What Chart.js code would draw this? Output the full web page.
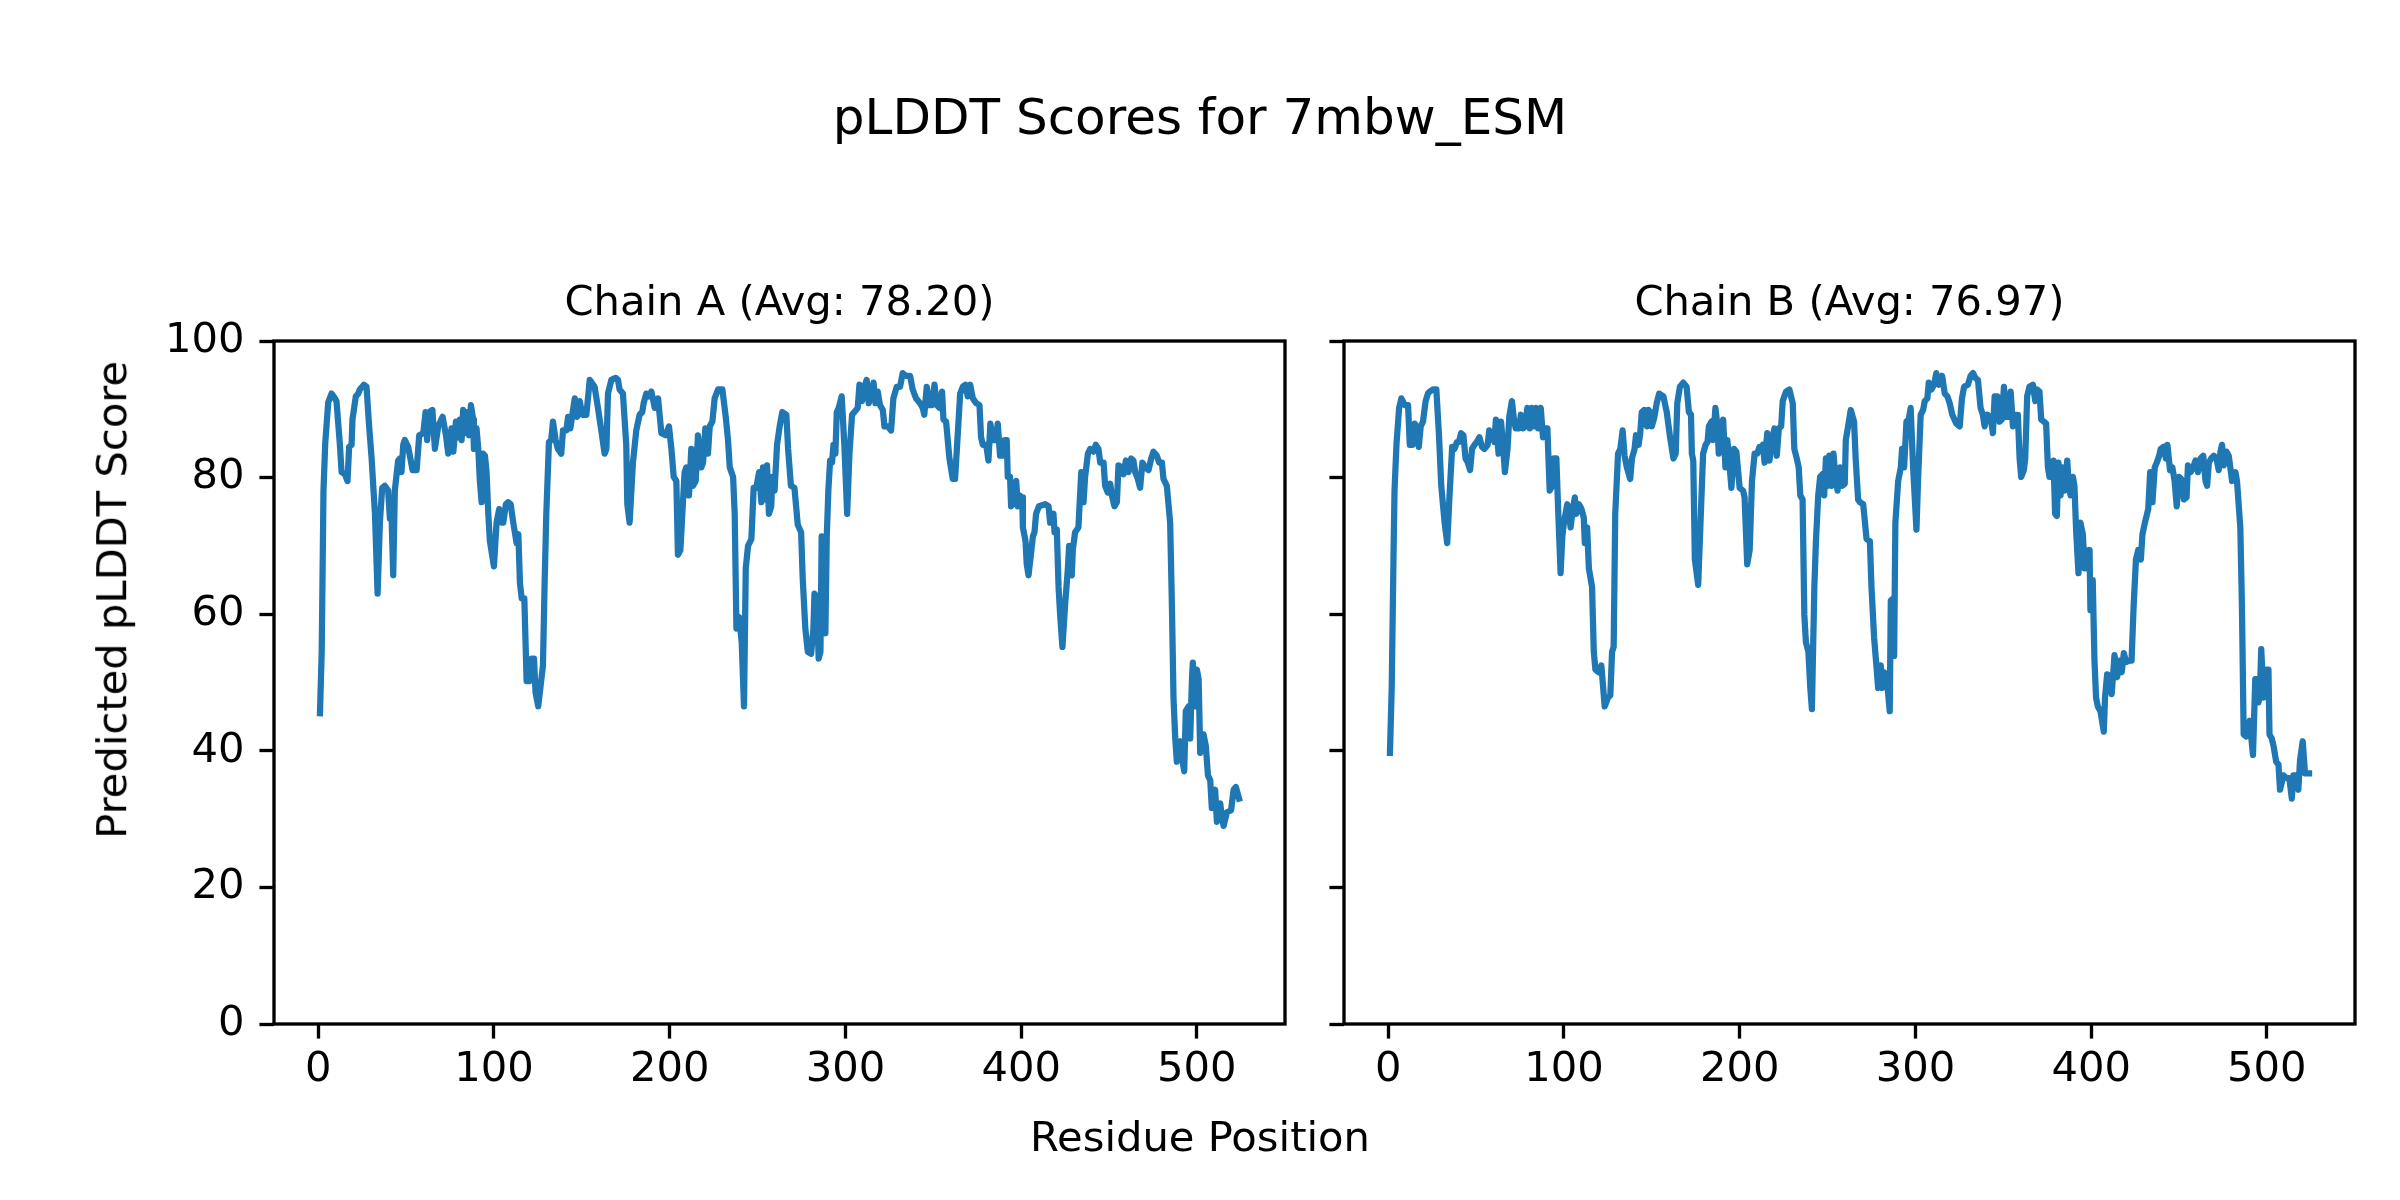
<!DOCTYPE html>
<html>
<head>
<meta charset="utf-8">
<title>pLDDT Scores for 7mbw_ESM</title>
<script src="https://cdn.jsdelivr.net/npm/chart.js@4.4.0/dist/chart.umd.min.js"></script>
<style>
    body { margin: 0; background: #fff; }
    #page { position: relative; width: 2400px; height: 1200px; overflow: hidden; font-family: 'DejaVu Sans', sans-serif; color: #000; }
    canvas { position: absolute; top: 0; }
    .label { position: absolute; white-space: nowrap; text-align: center; line-height: 1; }
</style>
</head>
<body>
<div id="page">
    <canvas id="chainA" width="1310" height="1200" style="left: 0px"></canvas>
    <canvas id="chainB" width="1090" height="1200" style="left: 1310px"></canvas>
    <div id="suptitle" class="label"></div>
    <div id="xlabel" class="label"></div>
    <div id="ylabel" class="label"></div>
</div>
<script>
const figureTitle = 'pLDDT Scores for 7mbw_ESM'
const xTitle = 'Residue Position'
const yTitle = 'Predicted pLDDT Score'
const chainTitles = ['Chain A (Avg: 78.20)', 'Chain B (Avg: 76.97)']
const xTicks = [0, 100, 200, 300, 400, 500]
const yTicks = [0, 20, 40, 60, 80, 100]

const residuesA = [
    1, 2, 3, 4, 5.7, 7.6, 9.5, 10.4, 12.3, 13.3,
    15.2, 16.7, 17.6, 19, 19.5, 21.4, 22.8, 23.7, 26, 27.5,
    28.8, 30.4, 32.3, 33.8, 35.1, 36.4, 37.9, 39.8, 40.8, 41.7,
    42.7, 43.6, 45.5, 46.5, 47.4, 48.4, 49.3, 51.2, 53.7, 56,
    57.5, 59.8, 61.1, 62, 63.2, 65, 66.4, 68.3, 70.8, 72.7,
    74, 75.9, 76.9, 78.4, 79.7, 80.6, 81.6, 82.5, 84, 84.8,
    85.9, 86.9, 88.2, 88.6, 90.1, 91.1, 92, 93, 93.9, 94.9,
    95.8, 96.8, 97.7, 100, 101.5, 103, 104.4, 105.3, 106.8, 108.1,
    109.5, 111, 112.9, 113.9, 114.8, 115.8, 117.3, 118.6, 120.1, 121.4,
    122.8, 123.7, 125.2, 127.9, 128.8, 129.8, 131.3, 132.6, 133.6, 135.1,
    136.4, 138.3, 139.3, 141.2, 142.2, 143.5, 144.6, 146, 147.3, 148.8,
    150.3, 152.6, 154.5, 157.3, 159.2, 161.1, 163, 164, 164.9, 166.8,
    169.3, 170.6, 171.5, 173.4, 175.3, 175.9, 177.2, 179.1, 181, 182.9,
    184.4, 185.2, 186.7, 188.2, 189.6, 191.5, 193.4, 195.3, 197.7, 199.6,
    201, 202.3, 203.8, 204.7, 206.1, 207.2, 208.5, 209.5, 211, 212.3,
    213.3, 214.8, 216.1, 218, 219, 220.3, 221.8, 222.8, 224.3, 225.6,
    227.5, 230, 231.9, 233.2, 234.2, 236.1, 237, 238, 239.5, 241,
    242.3, 243.3, 244.6, 246.5, 247.8, 249.3, 250.9, 252.2, 253.1, 254,
    255.4, 256.5, 257.8, 258.4, 259.7, 261.1, 262.6, 264.1, 266.4, 267.4,
    269, 271, 272.9, 274.8, 275.7, 277.2, 278.6, 280.5, 281.8, 282.4,
    283.7, 284.8, 285.8, 286.5, 287.5, 288.6, 289.4, 290.3, 291.3, 292.4,
    293.2, 294.3, 295.1, 296.2, 297.9, 299.4, 301, 302.3, 303.8, 305.1,
    307, 308, 309.5, 310.8, 312.1, 313.3, 314.6, 316, 317.1, 318.4,
    319.7, 321.3, 322.2, 324.1, 326, 327.3, 329.2, 331.1, 332.6, 334.5,
    336.8, 338.3, 340.2, 342.5, 344, 344.9, 346.3, 347.8, 349.3, 350.7,
    352, 353.5, 355, 355.8, 357.3, 359.2, 361.1, 362.4, 363.9, 365.3,
    366.8, 368.3, 369.6, 371, 372.5, 374.4, 376.3, 377.2, 378.2, 380.1,
    381.4, 382.5, 383.9, 385.4, 386.7, 388, 389.2, 390.5, 391.8, 392.4,
    393.7, 394.3, 395.3, 396.2, 397.2, 398.1, 399.1, 400.6, 401, 402.5,
    403.2, 404.2, 405.1, 406.7, 407.6, 408.5, 410.1, 413.7, 415.6, 416.5,
    418.4, 419, 420.3, 421.3, 422.2, 423.5, 425, 426.6, 427.3, 428.8,
    429.4, 430.7, 432.6, 434.2, 435.5, 436.4, 438, 439.3, 441.2, 442.5,
    444, 445, 446.9, 447.8, 449.3, 450.7, 451.6, 453.1, 454.5, 455.4,
    457, 458.3, 459.6, 461.1, 462.6, 463.9, 464.9, 466.4, 467.7, 469,
    470.6, 472.5, 474, 475.3, 477.2, 478.6, 480.1, 481, 482.9, 484.8,
    485.8, 486.7, 487.7, 488.6, 490.5, 491.5, 492.8, 493.7, 495.3, 496.2,
    497.2, 497.7, 499.1, 500, 501, 501.9, 503.8, 505.1, 506.3, 507.6,
    508.5, 510.4, 511.4, 513.3, 514.2, 515.2, 517.1, 519.5, 520.9, 522.2,
    524
]
const scoresA = [
    45.5, 54.5, 78, 85, 91, 92.3, 91.6, 91.2, 85, 80.8,
    80.5, 79.5, 84.5, 84.8, 88.5, 91.9, 92.3, 92.9, 93.6, 93.3,
    88.2, 82.8, 74.7, 63, 73.4, 78.5, 78.8, 78.1, 74, 74.7,
    65.7, 78.1, 82.5, 82.8, 80.8, 84.8, 85.5, 84.5, 81.1, 81.1,
    86.2, 86.5, 89.6, 85.5, 89.6, 89.9, 84.2, 87.5, 88.9, 86.2,
    83.5, 87.2, 83.8, 88.2, 85.9, 88.5, 85.5, 89.9, 86.5, 89.6,
    86.2, 90.6, 88.5, 84.2, 87.2, 84.2, 79.5, 76.4, 83.5, 83.2,
    80.8, 74.7, 70.7, 67, 73.4, 75.4, 73.4, 73.4, 76.1, 76.4,
    76.1, 73.4, 70.4, 71.7, 64.6, 62.3, 62.3, 50.2, 50.2, 53.5,
    53.5, 48.5, 46.5, 52.5, 64, 74.7, 85.2, 85.5, 88.2, 85.5,
    84.2, 83.5, 86.9, 86.9, 88.9, 87.2, 89.2, 91.6, 88.9, 91.2,
    89.2, 89.2, 94.3, 93.3, 90.2, 86.9, 83.5, 84.2, 92.3, 94.3,
    94.6, 94.3, 92.9, 92.3, 84.8, 76.1, 73.4, 82.2, 86.9, 89.2,
    89.6, 90.9, 92.3, 91.9, 92.6, 90.2, 91.6, 86.5, 86.2, 87.5,
    84.2, 80.1, 79.5, 68.7, 69.4, 74.7, 80.8, 81.5, 77.4, 84.2,
    78.8, 79.5, 86.2, 81.5, 82.2, 87.2, 83.5, 87.5, 88.2, 91.6,
    92.9, 92.9, 88.9, 85.5, 81.5, 80.1, 74.7, 57.9, 59.6, 55.9,
    46.5, 66.7, 70, 71, 78.5, 78.5, 80.8, 76.4, 81.5, 76.8,
    81.8, 74.7, 75.8, 80.1, 78.1, 84.8, 87.5, 89.6, 89.2, 84.2,
    78.8, 78.5, 73.1, 72, 65.3, 57.9, 54.5, 54.2, 57.9, 63,
    62.6, 53.5, 54.5, 71.4, 71, 57.2, 71.4, 78.1, 82.5, 82.2,
    84.8, 83.5, 89.6, 90.2, 91.9, 84.8, 74.7, 83.5, 89.2, 89.6,
    90.2, 93.6, 91.2, 93.3, 94.3, 90.9, 92.3, 93.9, 90.9, 92.6,
    90.6, 89.9, 87.5, 87.5, 86.9, 91.6, 93.3, 93.3, 95.3, 94.9,
    94.9, 92.9, 91.6, 90.9, 90.2, 89.2, 93.3, 90.6, 90.6, 93.6,
    90.6, 90.2, 92.6, 88.5, 88.2, 82.8, 79.8, 79.8, 86.2, 92.3,
    93.3, 93.6, 91.9, 93.6, 91.6, 90.9, 90.6, 85.9, 84.8, 84.8,
    82.5, 87.9, 85.5, 85.5, 87.9, 83.2, 83.2, 85.5, 85.5, 80.1,
    80.1, 75.8, 76.1, 78.8, 79.5, 75.8, 77.4, 77.1, 72.7, 70.7,
    67.3, 65.7, 67.7, 71.4, 72, 74.7, 75.8, 76.1, 75.8, 73.4,
    74.7, 72, 72.4, 64, 59.9, 55.2, 61.3, 66.7, 70, 65.7,
    69.4, 72, 72.7, 80.8, 76.4, 80.1, 83.5, 84.2, 83.8, 84.8,
    84.2, 82.2, 82.2, 78.8, 77.8, 79.1, 77.4, 75.8, 76.4, 81.8,
    81.5, 80.5, 82.5, 80.8, 82.8, 82.5, 80.8, 79.8, 78.5, 82.2,
    81.5, 81.1, 82.8, 83.8, 83.2, 82.2, 82.2, 79.8, 78.8, 73.4,
    61.3, 47.8, 41.8, 38.4, 41.4, 39.1, 37, 45.8, 46.5, 41.8,
    50.5, 52.9, 46.5, 51.9, 50.5, 39.7, 42.4, 40.7, 36.4, 35.7,
    31.6, 34.3, 29.6, 32.3, 30.3, 29, 31, 31.3, 34.3, 34.7,
    33
]

const residuesB = [
    1, 2, 3, 3.6, 4.7, 6.2, 7.5, 9.4, 11.3, 12.3,
    13.8, 15.1, 16, 17.4, 18.5, 19.8, 21.3, 22.6, 23.6, 25.5,
    27.4, 28.9, 30.2, 32.1, 33.6, 34.9, 36.4, 37.7, 39.1, 40.2,
    41.5, 42.8, 44, 45.3, 46.6, 47.7, 49.1, 50.4, 51.9, 53.4,
    54.7, 56.6, 57.5, 59.1, 60.4, 61.3, 62.8, 64.2, 65.5, 66.4,
    67.9, 68.9, 70.4, 71.7, 72.6, 74.5, 75.5, 76.8, 77.9, 79.2,
    80.6, 81.7, 83, 84, 85.3, 86.8, 88.1, 89.2, 90.6, 91.1,
    91.9, 93.4, 94.3, 95.7, 96.8, 98.1, 99.1, 100, 101.9, 102.8,
    103.8, 104.7, 106.2, 107, 108.5, 110, 111.3, 111.9, 113.2, 114.2,
    116, 117, 117.9, 119.8, 121.3, 123.2, 125.1, 126.4, 127.4, 128.3,
    129.2, 130.8, 132.1, 133.4, 134.5, 135.8, 137.7, 138.7, 140.2, 141,
    142.5, 143.4, 144.3, 145.7, 147.2, 148.1, 149.1, 150, 151.5, 152.8,
    154.2, 156.6, 158.5, 160.4, 162.3, 163.6, 164.5, 166, 167.9, 169.8,
    171.1, 172.3, 172.8, 173.6, 174.5, 176.4, 177.9, 179.2, 180.6, 181.7,
    182.5, 184, 184.9, 186.2, 187.4, 188.1, 189.2, 190.6, 191.9, 193,
    194, 195.3, 196.8, 198.1, 200, 201.9, 202.8, 204.3, 205.7, 207,
    208.5, 210, 211.3, 212.3, 213.2, 214.2, 215.7, 217, 218.3, 219.8,
    221.1, 222.3, 223.6, 224.5, 226.4, 228.3, 230.2, 231.1, 232.5, 233.6,
    234.5, 235.8, 236.8, 237.7, 239.1, 240.2, 241.1, 242.5, 243.4, 244.7,
    245.8, 247.2, 248.1, 249.1, 250, 251, 252.3, 253.4, 254.2, 255.7,
    257.2, 258.5, 259.8, 260.4, 261.7, 263.2, 265.1, 266, 267.4, 268.4,
    270.3, 272.2, 274.1, 275, 276.5, 277.8, 278.8, 280.3, 281.1, 282.2,
    283.5, 285.4, 286, 287.3, 287.9, 288.6, 290.2, 291.7, 292.4, 293.6,
    294.9, 296.2, 297.3, 298.7, 300.6, 301.5, 303, 304.4, 305.3, 306.8,
    307.6, 309.1, 310.6, 311.9, 313.3, 315.2, 316.7, 318.2, 319.5, 321,
    323.3, 325.2, 326.5, 327.7, 329.9, 331.4, 332.8, 334.1, 335.6, 337.1,
    338.4, 339.4, 340.9, 342.8, 344.1, 345.1, 346.6, 347.9, 349.2, 350.4,
    351.3, 352.7, 354.2, 355.5, 356.8, 358.3, 359.3, 360.2, 361.7, 362.5,
    363.6, 364.9, 366.9, 368.2, 369.3, 370.6, 371.6, 373.1, 374.4, 375.4,
    376.3, 377.7, 378.6, 379.5, 380.5, 381.4, 382.6, 383.7, 384.8, 386.4,
    387.3, 388.3, 389.6, 390.5, 391.5, 392.8, 393.9, 395.3, 396.2, 397.2,
    398.1, 399.1, 399.6, 400.9, 401.9, 402.8, 403.8, 405.3, 407.2, 407.9,
    409.1, 410.4, 411.7, 413.3, 414.8, 416.1, 417.4, 418.6, 419.9, 421.7,
    423, 424.2, 425.5, 426.8, 428.3, 429.2, 430.6, 432.5, 433.6, 434.9,
    436.2, 437.4, 438.7, 439.6, 441.1, 442.5, 443.4, 444.9, 446.2, 447.5,
    448.7, 450, 451.3, 452.8, 454.3, 455.1, 456.6, 458.1, 459.4, 460.8,
    462.3, 463.8, 465.1, 466, 467, 468.3, 469.8, 471.3, 472.6, 473.6,
    474.5, 475.5, 477, 478.3, 479.2, 480.2, 482.1, 483, 484.9, 485.8,
    486.8, 488.3, 490.2, 492.1, 493.4, 494.3, 495.3, 496.2, 496.8, 498.1,
    499.6, 500.9, 501.5, 502.8, 503.8, 505.3, 506.6, 507.5, 509.4, 511.3,
    512.8, 514.2, 515.1, 516.6, 517.9, 518.9, 520.4, 521.7, 524
]
const scoresB = [
    39.7, 49.2, 68, 78.1, 84.8, 90.2, 91.6, 90.6, 90.6, 84.8,
    84.8, 87.9, 87.5, 84.5, 87.5, 88.2, 91.2, 92.3, 92.6, 92.9,
    92.9, 86.2, 78.8, 73.4, 70.4, 77.4, 84.5, 84.2, 85.2, 85.2,
    86.5, 86.2, 82.8, 82.2, 81.1, 84.2, 84.8, 85.2, 85.9, 84.5,
    84.2, 84.8, 86.9, 86.5, 85.2, 88.5, 83.5, 88.2, 84.2, 80.8,
    84.2, 88.9, 91.2, 88.2, 87.2, 87.2, 89.2, 87.2, 87.5, 90.2,
    87.2, 90.2, 87.5, 90.2, 87.2, 90.2, 85.9, 87.2, 87.2, 83.5,
    78.1, 78.8, 82.8, 82.8, 74.7, 66, 71.4, 73.4, 76.1, 75.1,
    72.7, 74.7, 77.1, 74.7, 76.1, 75.4, 74.1, 70.4, 72.7, 66.7,
    64, 54.5, 51.9, 51.5, 52.5, 46.5, 47.8, 48.1, 54.5, 55.2,
    74.7, 83.5, 84.2, 86.9, 83.2, 81.5, 79.8, 82.8, 84.2, 86.2,
    84.8, 86.5, 89.6, 89.9, 87.5, 89.9, 89.6, 87.5, 88.9, 90.9,
    92.3, 91.9, 89.6, 85.9, 82.8, 83.5, 90.9, 93.3, 93.9, 93.3,
    89.6, 89.2, 83.5, 82.5, 68, 64.3, 74.7, 83.5, 84.8, 85.2,
    87.5, 88.2, 85.5, 90.2, 87.5, 83.5, 85.5, 88.5, 81.5, 85.5,
    82.5, 78.5, 84.2, 83.8, 78.5, 78.1, 77.1, 67.3, 69.4, 79.5,
    83.5, 83.5, 84.5, 84.2, 84.8, 82.2, 86.5, 82.5, 85.5, 87.2,
    83.2, 87.2, 87.5, 91.2, 92.6, 92.9, 90.9, 84.2, 82.8, 81.5,
    77.4, 76.8, 59.9, 55.9, 54.5, 49.2, 46.1, 64, 70.7, 77.4,
    80.1, 80.5, 77.4, 82.8, 78.8, 83.2, 78.8, 83.5, 80.8, 78.1,
    81.5, 78.8, 79.1, 85.5, 87.5, 89.9, 88.2, 82.8, 76.8, 76.4,
    76.1, 71, 70.7, 64, 56.6, 52.5, 49.2, 52.5, 49.2, 51.5,
    51.2, 45.8, 62, 62.3, 53.9, 73.4, 79.5, 81.5, 84.2, 81.5,
    88.2, 88.5, 90.2, 81.5, 72.4, 79.5, 89.2, 89.9, 91.2, 91.6,
    93.9, 92.9, 93.6, 95.3, 93.6, 94.9, 92.3, 91.9, 90.9, 89.2,
    87.9, 87.5, 91.6, 93.3, 93.6, 94.9, 95.3, 94.6, 94.3, 90.2,
    89.2, 87.5, 89.2, 88.9, 86.5, 91.9, 91.9, 88.2, 88.5, 93.3,
    88.9, 88.9, 92.6, 87.5, 89.2, 89.2, 82.8, 80.1, 81.1, 82.8,
    91.9, 93.3, 93.6, 91.2, 92.9, 92.6, 88.5, 88.2, 87.9, 81.5,
    80.1, 80.1, 82.5, 74.7, 74.4, 82.2, 77.4, 81.5, 78.1, 82.5,
    78.8, 77.4, 80.1, 78.8, 72, 66, 73.4, 71.7, 66.7, 69.4,
    66.7, 69.4, 60.6, 65, 53.2, 47.8, 46.5, 45.8, 42.8, 47.8,
    51.2, 51, 48.3, 54, 50.8, 53.2, 51.5, 54.3, 53, 53.2,
    53.2, 61.3, 68, 69.4, 68, 71.7, 73.4, 75.4, 80.8, 76.4,
    81.5, 82.2, 83.2, 84.2, 84.5, 82.8, 84.8, 81.1, 81.5, 79.5,
    75.8, 80.1, 79.8, 76.8, 77.1, 81.8, 80.8, 81.5, 82.5, 80.8,
    82.8, 83.2, 79.5, 78.8, 82.2, 82.8, 83.2, 82.8, 81.1, 83.8,
    84.8, 81.8, 83.8, 83.2, 81.5, 79.5, 80.8, 79.5, 72.7, 61.3,
    42.4, 42.1, 44.4, 39.4, 50.5, 50.5, 47.1, 49.8, 54.9, 47.8,
    51.9, 51.9, 42.4, 41.8, 40.7, 38.4, 38, 34.3, 36.4, 36,
    36, 33, 36.4, 36.4, 34.3, 38.7, 41.4, 36.7, 36.7
]

const FONT = 'DejaVu Sans'
const PT = 300 / 72
const tickSize = 10 * PT
const lineBlue = '#1f77b4'

Chart.defaults.font.family = FONT
Chart.defaults.color = '#000'

const toPoints = (xs, ys) => xs.map((x, i) => ({ x: x, y: ys[i] }))

// matplotlib-style 5% margins around the residue range
const xSpan = residuesA[residuesA.length - 1] - residuesA[0]
const xMin = residuesA[0] - 0.05 * xSpan
const xMax = residuesA[residuesA.length - 1] + 0.05 * xSpan

const frame = {
    id: 'frame',
    afterDatasetsDraw: (chart) => {
        const { ctx, chartArea } = chart
        ctx.save()
        ctx.strokeStyle = '#000'
        ctx.lineWidth = 0.8 * PT
        ctx.strokeRect(chartArea.left, chartArea.top, chartArea.right - chartArea.left, chartArea.bottom - chartArea.top)
        ctx.restore()
    }
}

const tickGrid = {
    drawOnChartArea: false,
    drawTicks: true,
    tickLength: 3.5 * PT,
    tickWidth: 0.8 * PT,
    tickColor: '#000',
    color: '#000',
}

const drawChain = (id, title, residues, scores, showYLabels, axisWidth, rightPad) => {
    const ctx = document.getElementById(id)
    return new Chart(ctx, {
        type: 'line',
        data: {
            datasets: [{
                data: toPoints(residues, scores),
                borderColor: lineBlue,
                borderWidth: 1.5 * PT,
                borderJoinStyle: 'round',
                borderCapStyle: 'square',
                pointRadius: 0,
                fill: false,
                tension: 0,
            }]
        },
        options: {
            responsive: false,
            animation: false,
            devicePixelRatio: 1,
            layout: { padding: { left: 0, right: rightPad, top: 0, bottom: 0 } },
            plugins: {
                legend: { display: false },
                tooltip: { enabled: false },
                title: {
                    display: true,
                    text: title,
                    fullSize: false,
                    color: '#000',
                    font: { family: FONT, size: tickSize, weight: 'normal', lineHeight: 1.2 },
                    padding: { top: 279.3, bottom: 11.7 },
                },
            },
            scales: {
                x: {
                    type: 'linear',
                    position: 'bottom',
                    min: xMin,
                    max: xMax,
                    afterBuildTicks: (s) => { s.ticks = xTicks.map(v => ({ value: v })) },
                    afterFit: (s) => { s.height = 176 },
                    border: { display: false },
                    grid: tickGrid,
                    ticks: { font: { size: tickSize }, color: '#000', padding: 7, maxRotation: 0, autoSkip: false },
                },
                y: {
                    type: 'linear',
                    position: 'left',
                    min: 0,
                    max: 100,
                    afterBuildTicks: (s) => { s.ticks = yTicks.map(v => ({ value: v })) },
                    afterFit: (s) => { s.width = axisWidth },
                    border: { display: false },
                    grid: tickGrid,
                    ticks: { display: showYLabels, font: { size: tickSize }, color: '#000', padding: 15 },
                },
            },
        },
        plugins: [frame],
    })
}

const placeLabels = () => {
    const sup = document.getElementById('suptitle')
    sup.textContent = figureTitle
    Object.assign(sup.style, { left: '0px', width: '2400px', top: '91.7px', fontSize: (12 * PT) + 'px' })

    const xl = document.getElementById('xlabel')
    xl.textContent = xTitle
    Object.assign(xl.style, { left: '0px', width: '2400px', top: '1116.4px', fontSize: tickSize + 'px' })

    const yl = document.getElementById('ylabel')
    yl.textContent = yTitle
    Object.assign(yl.style, {
        left: (112.3 - 600) + 'px', top: (600 - tickSize / 2) + 'px', width: '1200px', height: tickSize + 'px',
        fontSize: tickSize + 'px', transform: 'rotate(-90deg)', transformOrigin: '50% 50%'
    })
}

if (residuesA.length !== scoresA.length || residuesB.length !== scoresB.length) {
    console.log('Length mismatch', residuesA.length, scoresA.length, residuesB.length, scoresB.length)
}

placeLabels()
drawChain('chainA', chainTitles[0], residuesA, scoresA, true, 274, 25)
drawChain('chainB', chainTitles[1], residuesB, scoresB, false, 34, 45)
</script>
</body>
</html>
